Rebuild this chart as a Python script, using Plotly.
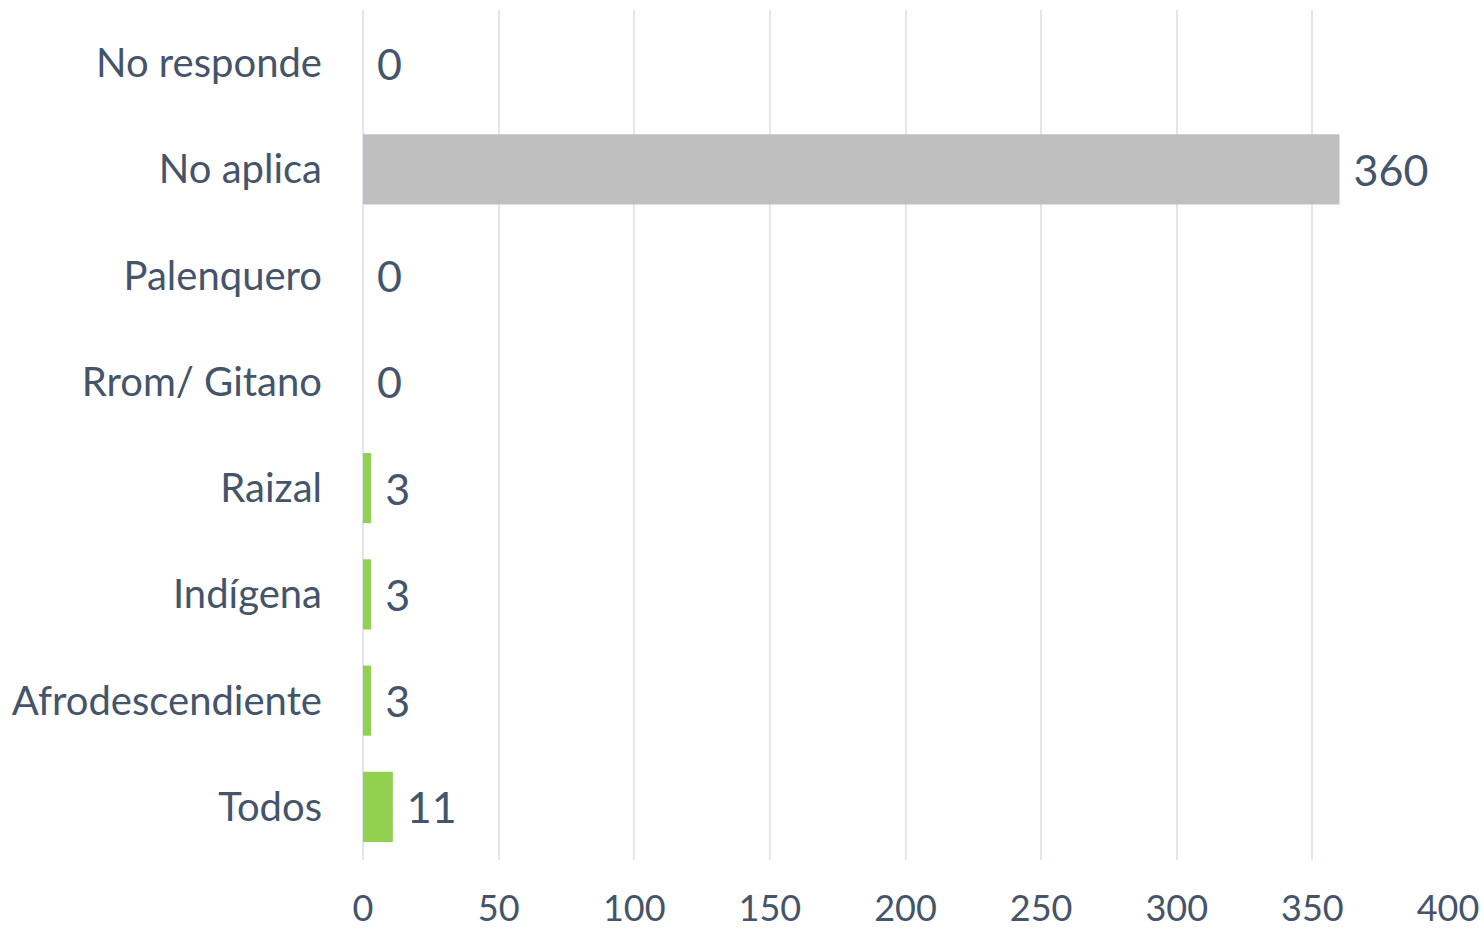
import plotly.graph_objects as go

categories = ["Todos", "Afrodescendiente", "Indígena", "Raizal", "Rrom/ Gitano",
              "Palenquero", "No aplica", "No responde"]
values = [11, 3, 3, 3, 0, 0, 360, 0]
bar_colors = ["#92D050", "#92D050", "#92D050", "#92D050", "#92D050",
              "#92D050", "#BFBFBF", "#92D050"]
x_ticks = [0, 50, 100, 150, 200, 250, 300, 350, 400]

text_color = "#44546A"
font_family = "Lato, 'Open Sans', sans-serif"

fig = go.Figure(go.Bar(
    y=categories,
    x=values,
    orientation="h",
    marker=dict(color=bar_colors, line=dict(width=0)),
    width=0.66,
    text=["\u00a0" + str(v) for v in values],
    textposition="outside",
    cliponaxis=False,
    textfont=dict(size=43, color=text_color, family=font_family),
))

fig.update_layout(
    width=1484, height=932,
    margin=dict(l=363, r=36, t=10, b=72, autoexpand=False),
    paper_bgcolor="white", plot_bgcolor="white",
    showlegend=False,
    font=dict(family=font_family, color=text_color),
)
fig.update_xaxes(
    range=[0, 400], tickvals=x_ticks, ticktext=[str(t) for t in x_ticks],
    showgrid=True, gridcolor="#E1E5EC", gridwidth=2,
    zeroline=True, zerolinecolor="#E1E5EC", zerolinewidth=2,
    showline=False, ticks="", automargin=False,
    tickfont=dict(size=36, color=text_color, family=font_family),
    ticklabelstandoff=24,
    fixedrange=True,
)
fig.update_yaxes(
    categoryorder="array", categoryarray=categories,
    showgrid=False, zeroline=False, showline=False, ticks="", automargin=False,
    tickfont=dict(size=40, color=text_color, family=font_family),
    ticklabelstandoff=40,
    fixedrange=True,
)

fig.write_html(
    "out.html",
    config={"displayModeBar": False},
    post_script="document.body.style.margin='0';document.body.style.overflow='hidden';",
)
